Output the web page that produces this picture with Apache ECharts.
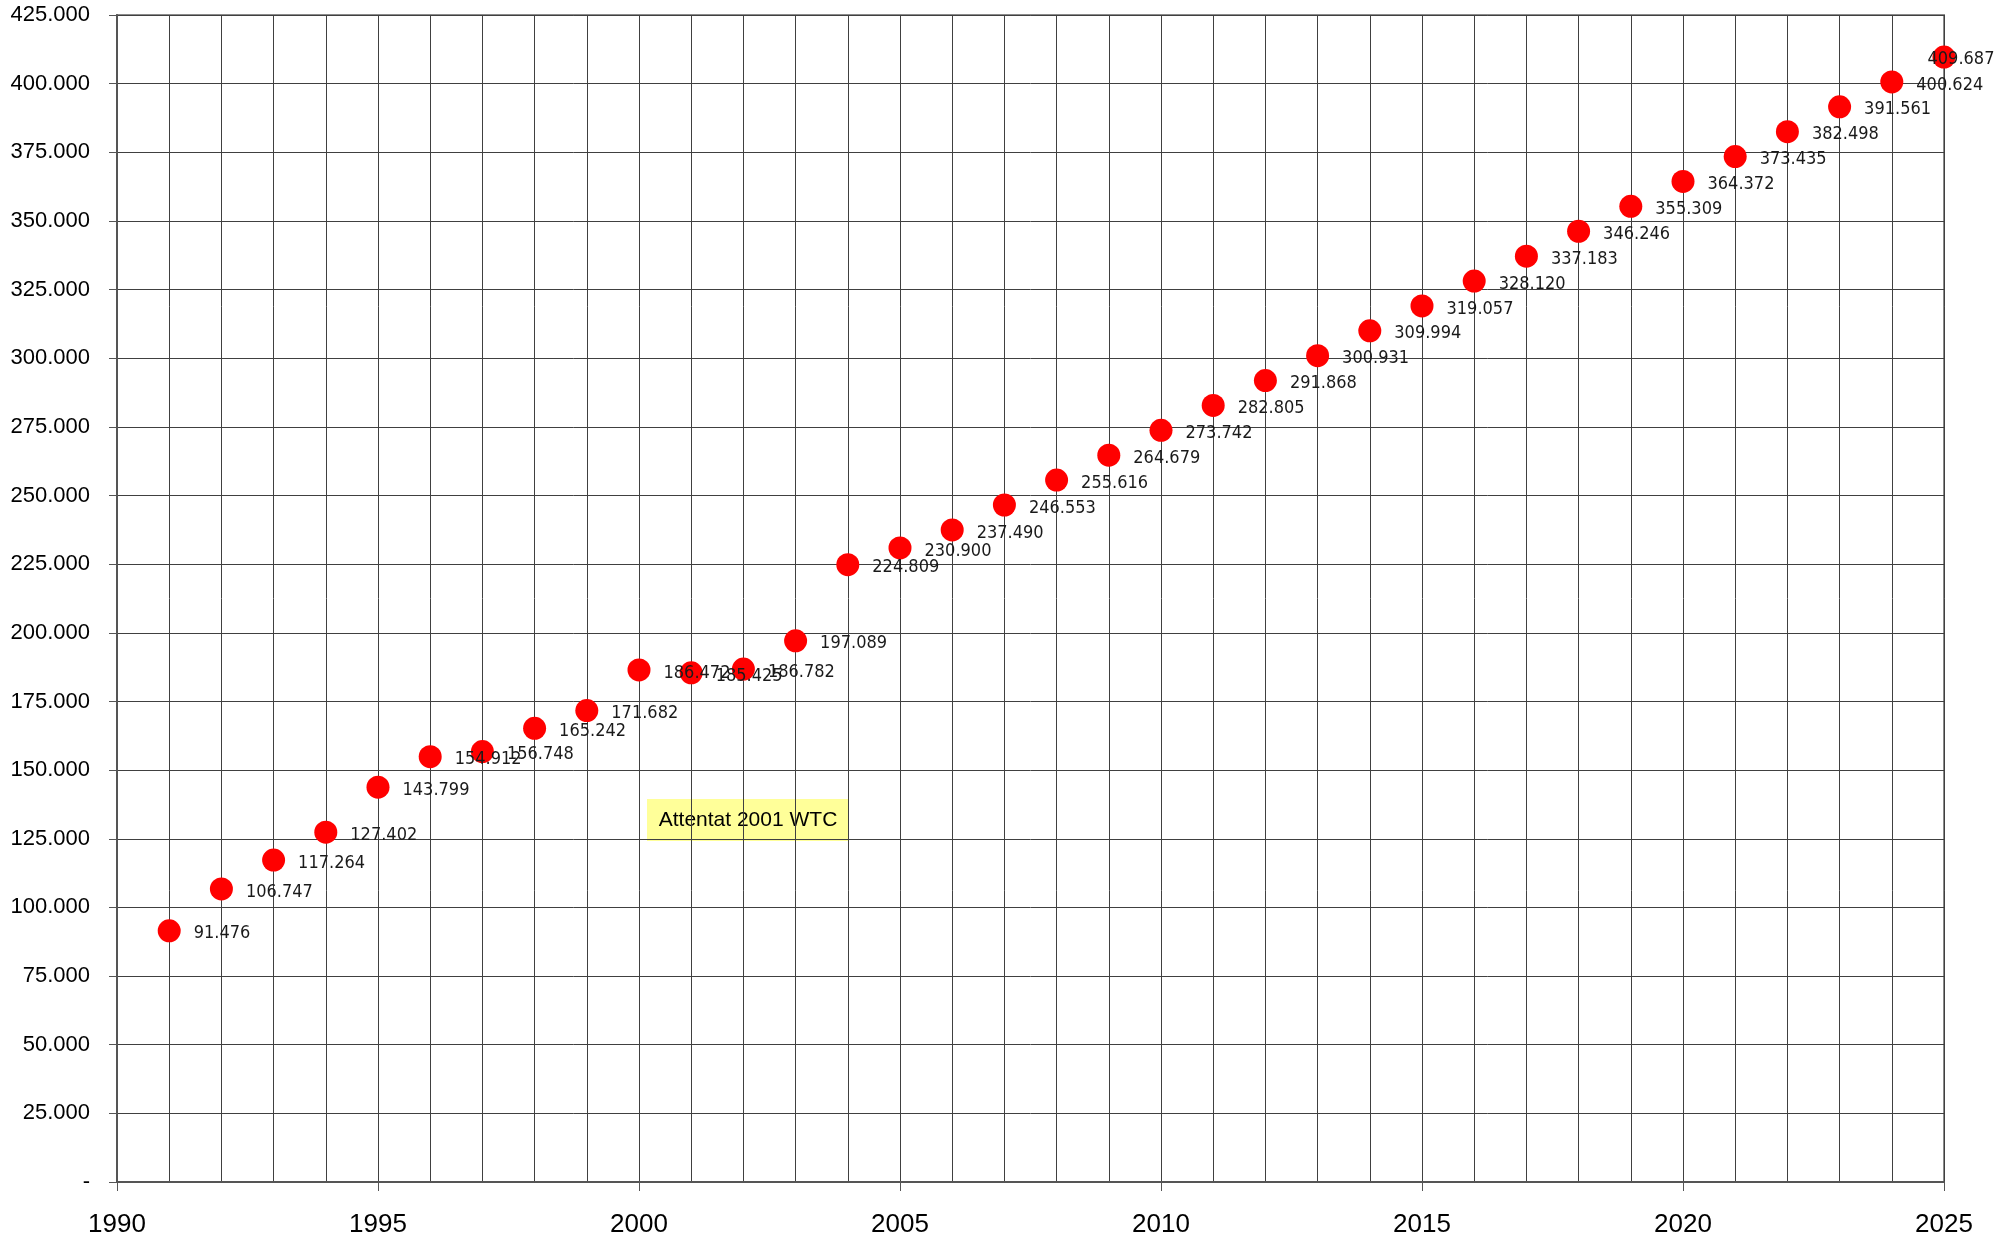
<!DOCTYPE html>
<html>
<head>
<meta charset="utf-8">
<script src="https://cdn.jsdelivr.net/npm/echarts@6/dist/echarts.min.js"></script>
<style>
  html, body { margin: 0; padding: 0; background: #fff; }
  #main { width: 2013px; height: 1239px; }
</style>
</head>
<body>
<div id="main"></div>
<script>
// années et valeurs
var years = [1991, 1992, 1993, 1994, 1995, 1996, 1997, 1998, 1999, 2000,
             2001, 2002, 2003, 2004, 2005, 2006, 2007, 2008, 2009, 2010,
             2011, 2012, 2013, 2014, 2015, 2016, 2017, 2018, 2019, 2020,
             2021, 2022, 2023, 2024, 2025];
var values = [91476, 106747, 117264, 127402, 143799, 154912, 156748, 165242, 171682, 186472,
              185425, 186782, 197089, 224809, 230900, 237490, 246553, 255616, 264679, 273742,
              282805, 291868, 300931, 309994, 319057, 328120, 337183, 346246, 355309, 364372,
              373435, 382498, 391561, 400624, 409687];
var yTicks = { min: 0, max: 425000, step: 25000 };
var xTicks = { min: 1990, max: 2025, step: 5 };
var noteText = 'Attentat 2001 WTC';

// format "425.000", zéro affiché "-"
function fmt(v) {
  if (v === 0) return '-';
  var s = String(Math.round(v));
  return s.replace(/\B(?=(\d{3})+(?!\d))/g, '.');
}

var points = years.map(function (y, i) {
  var p = { value: [y, values[i]] };
  // dernier point : étiquette repoussée à gauche comme dans Excel
  if (i === years.length - 1) {
    p.label = { position: [-5, 14], offset: [0, 0], align: 'left', verticalAlign: 'middle' };
  }
  return p;
});

var chart = echarts.init(document.getElementById('main'), null, { renderer: 'canvas' });

var gridColor = '#404040';

var option = {
  backgroundColor: '#ffffff',
  animation: false,
  grid: {
    left: 117, top: 15, right: 69, bottom: 57,
    show: true,
    borderColor: '#8a8a8a',
    borderWidth: 2
  },
  xAxis: {
    type: 'value',
    min: xTicks.min,
    max: xTicks.max,
    interval: xTicks.step,
    axisLine: { show: true, onZero: false, lineStyle: { color: '#555', width: 2 } },
    axisTick: { show: true, length: 9, lineStyle: { color: '#555', width: 1 } },
    axisLabel: {
      margin: 30,
      formatter: function (v) { return String(v); },
      fontFamily: 'Liberation Sans, Arial, sans-serif',
      fontSize: 26,
      color: '#000'
    },
    splitLine: { show: true, lineStyle: { color: gridColor, width: 1 } },
    minorTick: { show: false, splitNumber: 5 },
    minorSplitLine: { show: true, lineStyle: { color: gridColor, width: 1 } }
  },
  yAxis: {
    type: 'value',
    min: yTicks.min,
    max: yTicks.max,
    interval: yTicks.step,
    axisLine: { show: true, onZero: false, lineStyle: { color: '#555', width: 2 } },
    axisTick: { show: true, length: 8, lineStyle: { color: '#555', width: 1 } },
    axisLabel: {
      margin: 27,
      formatter: fmt,
      fontFamily: 'Liberation Sans, Arial, sans-serif',
      fontSize: 22,
      color: '#000'
    },
    splitLine: { show: true, lineStyle: { color: gridColor, width: 1 } }
  },
  series: [{
    type: 'scatter',
    symbol: 'circle',
    symbolSize: 23,
    itemStyle: { color: '#ff0000', opacity: 1 },
    emphasis: { disabled: true },
    label: {
      show: true,
      position: 'right',
      distance: 13,
      offset: [0, 3],
      formatter: function (p) { return fmt(p.value[1]); },
      fontFamily: '"Liberation Sans Narrow", "DejaVu Sans Condensed", "Arial Narrow", "Liberation Sans", sans-serif',
      fontSize: 18,
      color: '#1a1a1a'
    },
    data: points,
    z: 5
  }],
  graphic: [{
    type: 'group',
    left: 647,
    top: 799,
    z: 10,
    children: [{
      type: 'rect',
      shape: { x: 0, y: 0, width: 202, height: 42 },
      style: { fill: '#ffff99' }
    }, {
      type: 'text',
      x: 101,
      y: 21,
      style: {
        text: noteText,
        fontFamily: 'Liberation Sans, Arial, sans-serif',
        fontSize: 21,
        fill: '#000',
        align: 'center',
        verticalAlign: 'middle'
      }
    }]
  }]
};

chart.setOption(option);
</script>
</body>
</html>
